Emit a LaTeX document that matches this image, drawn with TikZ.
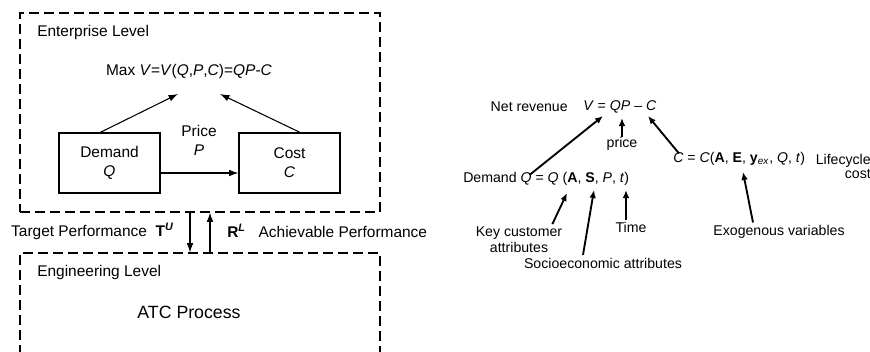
\documentclass[tikz,border=0pt]{standalone}
\usepackage{fontspec}
\setmainfont{Liberation Sans}
\usetikzlibrary{arrows.meta}

\tikzset{
  levelbox/.style={draw, line width=0.8pt, dash pattern=on 7.5pt off 3.75pt, minimum width=270pt},
  blockbox/.style={draw, line width=0.8pt, minimum width=75.75pt, minimum height=45pt, align=center},
  lefttext/.style={font=\fontsize{11.6}{14.25}\selectfont, inner sep=0pt, align=center},
  righttext/.style={font=\fontsize{10.6}{12}\selectfont, inner sep=0pt, align=center},
  flow/.style={->, line width=0.8pt, >={Latex[length=7pt, width=5pt]}},
  thickflow/.style={->, line width=1.4pt, >={Latex[length=6pt, width=5pt]}}
}

\begin{document}
\begin{tikzpicture}[x=0.75pt, y=-0.75pt]
    \useasboundingbox (0,0) rectangle (870,351);

    % Levels (left)
    \node[levelbox, minimum height=149.25pt] (ent) at (200,112.5) {};
    \node[levelbox, minimum height=88.5pt] (eng) at (200,312) {};
    \node[lefttext, anchor=west] (entlabel) at (37,32) {Enterprise Level};
    \node[lefttext, anchor=west] (englabel) at (37,272) {Engineering Level};
    \node[lefttext, font=\fontsize{13.3}{16}\selectfont] (atc) at (189,312) {ATC Process};

    % Enterprise level content
    \node[lefttext] (maxv) at (189,71) {Max \textit{V}=\textit{V}(\textit{Q},\textit{P},\textit{C})=\textit{QP}-\textit{C}};
    \node[blockbox, font=\fontsize{11.6}{14.25}\selectfont] (demand) at (109.5,163) {Demand\\\textit{Q}};
    \node[blockbox, font=\fontsize{11.6}{14.25}\selectfont] (cost) at (289.5,163) {Cost\\\textit{C}};
    \node[lefttext] (price) at (199,140.5) {Price\\\textit{P}};
    \coordinate (vleft) at (178,94);
    \coordinate (vright) at (220,94);

    \draw[flow] ([xshift=-7pt]demand.north) -- (vleft);
    \draw[flow] ([xshift=8pt]cost.north) -- (vright);
    \draw[flow] ([yshift=-7.5pt]demand.east) -- ([yshift=-7.5pt]cost.west);

    % Between the levels
    \draw[flow] ([xshift=-7.5pt]ent.south) -- ([xshift=-7.5pt]eng.north);
    \draw[flow] ([xshift=7.5pt]eng.north) -- ([xshift=7.5pt]ent.south);
    \node[lefttext, anchor=east] (target) at (174,231) {Target Performance\ \ \textbf{T}\textsuperscript{\textbf{\textit{U}}}};
    \node[lefttext, anchor=west] (achieve) at (227,231) {\textbf{R}\textsuperscript{\textbf{\textit{L}}}\ \ \ Achievable Performance};

    % Net revenue model (right)
    \node[righttext, anchor=east] (netrev) at (568,107) {Net revenue};
    \node[righttext, anchor=west] (vdef) at (583,107) {\textit{V} = \textit{QP} -- \textit{C}};
    \node[righttext] (pricelbl) at (622,144) {price};
    \node[righttext, anchor=west] (demandeq) at (463,179) {Demand \textit{Q} = \textit{Q} (\textbf{A}, \textbf{S}, \textit{P}, \textit{t})};
    \node[righttext, anchor=west] (ceq) at (673,159) {\textit{C} = \textit{C}(\textbf{A}, \textbf{E}, \textbf{y}\textsubscript{\textit{ex}}, \textit{Q}, \textit{t})};
    \node[righttext, align=right, anchor=east, font=\fontsize{10.6}{10.5}\selectfont] (lifecycle) at (871,166) {Lifecycle\\cost};
    \node[righttext] (keycust) at (519,240) {Key customer\\attributes};
    \node[righttext] (timelbl) at (631,227) {Time};
    \node[righttext] (socio) at (603,263) {Socioeconomic attributes};
    \node[righttext] (exo) at (779,232) {Exogenous variables};

    \coordinate (vq) at (603,116);
    \coordinate (vp) at (622,118);
    \coordinate (vc) at (648,116);
    \coordinate (qa) at (567,193);
    \coordinate (qs) at (594,190);
    \coordinate (qt) at (626,190);
    \coordinate (ce) at (743,172);

    \draw[thickflow] ([xshift=50pt, yshift=-2pt]demandeq.north west) -- (vq);
    \draw[thickflow] (pricelbl.north) -- (vp);
    \draw[thickflow] ([xshift=4.5pt, yshift=-1pt]ceq.north west) -- (vc);
    \draw[thickflow] ([xshift=25pt, yshift=2pt]keycust.north) -- (qa);
    \draw[thickflow] ([xshift=-15pt, yshift=2pt]socio.north) -- (qs);
    \draw[thickflow] ([xshift=-3.75pt, yshift=1pt]timelbl.north) -- (qt);
    \draw[thickflow] ([xshift=-19.5pt, yshift=2pt]exo.north) -- (ce);
\end{tikzpicture}
\end{document}
